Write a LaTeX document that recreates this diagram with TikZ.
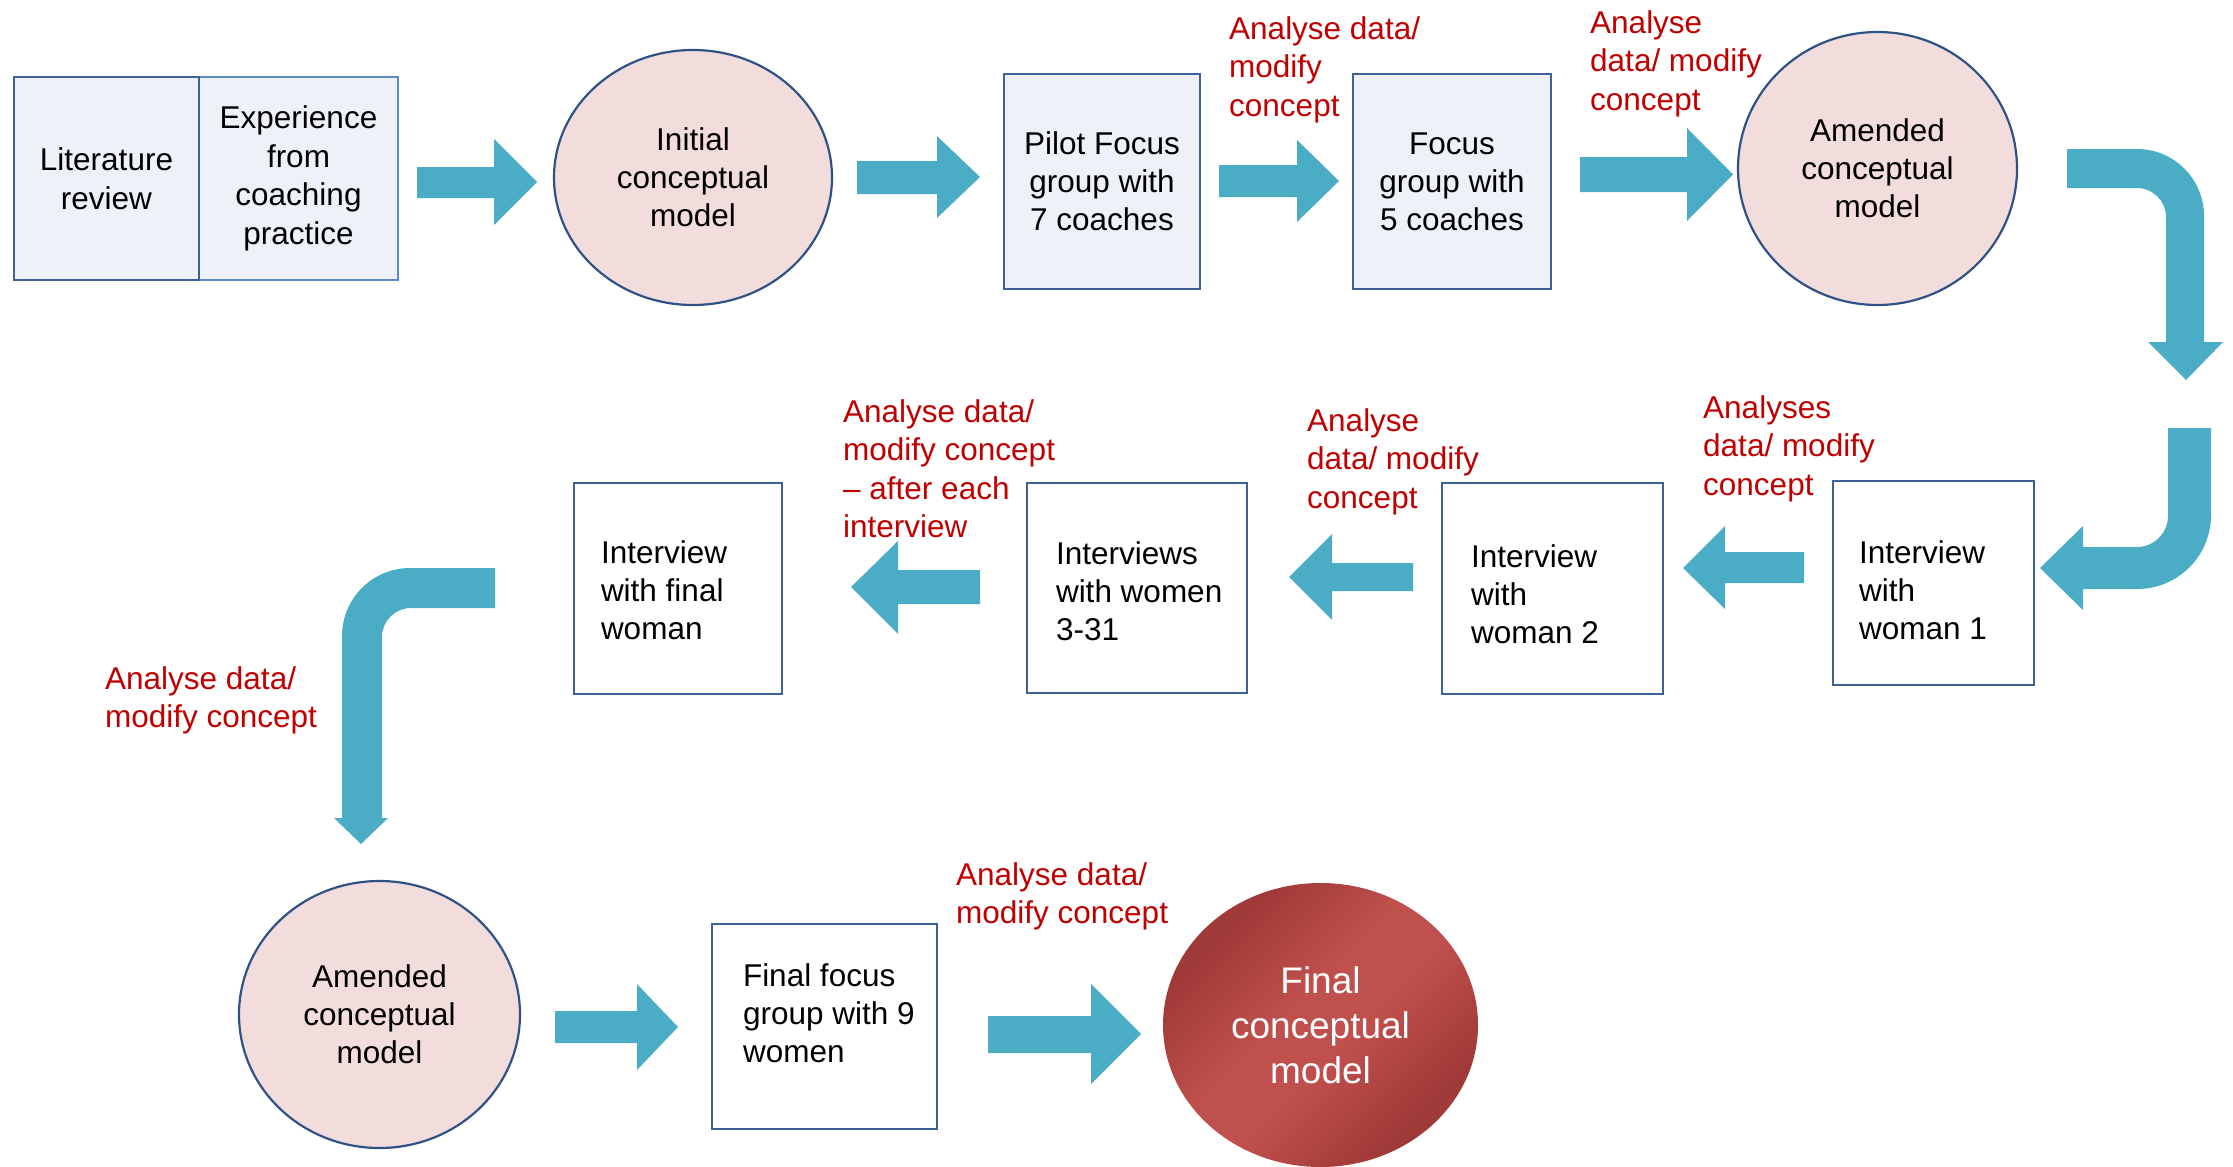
\documentclass[tikz,border=0pt]{standalone}
\usepackage{fontspec}
\setmainfont{Liberation Sans}
\usetikzlibrary{shapes.geometric}
\definecolor{arrowc}{HTML}{4BACC6}
\definecolor{boxline}{HTML}{3E6297}
\definecolor{boxline2}{HTML}{5B8BC9}
\definecolor{boxfill}{HTML}{EEF2F8}
\definecolor{circfill}{HTML}{F2DDDC}
\definecolor{circline}{HTML}{2F5286}
\definecolor{labred}{HTML}{C00000}
\definecolor{rdark}{HTML}{A03A38}
\definecolor{rlight}{HTML}{C0504D}
\pgfdeclarehorizontalshading{redband}{100bp}{color(0bp)=(rdark); color(28bp)=(rdark); color(45bp)=(rlight); color(55bp)=(rlight); color(72bp)=(rdark); color(100bp)=(rdark)}
\tikzset{
  basetext/.style={inner sep=0pt, outer sep=0pt, font=\fontsize{31.5}{38}\selectfont},
  topbox/.style={basetext, draw=boxline, line width=2.2pt, fill=boxfill, align=center},
  rowbox/.style={basetext, draw=boxline, line width=2.2pt, fill=white},
  circ/.style={basetext, ellipse, draw=circline, line width=2.2pt, fill=circfill, align=center},
  btxt/.style={basetext, align=left, anchor=north west},
  lab/.style={inner sep=0pt, font=\fontsize{31.5}{38.5}\selectfont, text=labred, align=left, anchor=north west},
  barrow/.style={fill=arrowc},
}
\begin{document}
\begin{tikzpicture}[x=1pt,y=-1pt]
\useasboundingbox (0,0) rectangle (2233,1167);

% top row
\node[topbox, draw=boxline2, minimum width=199pt, minimum height=203pt, font=\fontsize{31.5}{38.5}\selectfont] (exp) at (298.5,178.5) {Experience\\from\\coaching\\practice};
\node[topbox, minimum width=185pt, minimum height=203pt, font=\fontsize{31.5}{38.5}\selectfont] (lit) at (106.5,178.5) {Literature\\review};
\node[circ, minimum width=278pt, minimum height=255pt] (init) at (693,177.5) {Initial\\conceptual\\model};
\node[topbox, minimum width=196pt, minimum height=215pt] (pilot) at (1102,181.5) {Pilot Focus\\group with\\7 coaches};
\node[topbox, minimum width=198pt, minimum height=215pt] (focus) at (1452,181.5) {Focus\\group with\\5 coaches};
\node[circ, minimum width=279pt, minimum height=273pt] (amend1) at (1877.5,168.5) {Amended\\conceptual\\model};

\fill[barrow] (417,167) -- (494,167) -- (494,139) -- (537,182) -- (494,225) -- (494,198) -- (417,198) -- cycle;
\fill[barrow] (857,161) -- (937,161) -- (937,136) -- (980,177) -- (937,218) -- (937,194) -- (857,194) -- cycle;
\fill[barrow] (1219,165) -- (1297,165) -- (1297,140) -- (1339,181) -- (1297,222) -- (1297,197) -- (1219,197) -- cycle;
\fill[barrow] (1580,157) -- (1687,157) -- (1687,128) -- (1733,174.5) -- (1687,221) -- (1687,192) -- (1580,192) -- cycle;

\node[lab] (l1) at (1229,16) {Analyse data/\\modify\\concept};
\node[lab] (l2) at (1590,10) {Analyse\\data/ modify\\concept};

% bent arrows right
\fill[barrow] (2067,149) -- (2137,149) .. controls (2174,149) and (2204,179) .. (2204,216) -- (2204,342) -- (2223,342) -- (2186,380) -- (2148,342) -- (2166,342) -- (2166,217) .. controls (2166,201) and (2153,188) .. (2137,188) -- (2067,188) -- cycle;
\fill[barrow] (2168,428) -- (2211,428) -- (2211,515) .. controls (2211,556) and (2178,589) .. (2137,589) -- (2083,589) -- (2083,610) -- (2040,568) -- (2083,526) -- (2083,547) -- (2137,547) .. controls (2154,547) and (2168,533) .. (2168,516) -- cycle;

% second row
\node[rowbox, minimum width=201pt, minimum height=204pt] (w1) at (1933.5,583) {};
\node[btxt] (w1t) at (1859,541) {Interview\\with\\woman 1};
\node[rowbox, minimum width=221pt, minimum height=211pt] (w2) at (1552.5,588.5) {};
\node[btxt] (w2t) at (1471,545) {Interview\\with\\woman 2};
\node[rowbox, minimum width=220pt, minimum height=210pt] (w3) at (1137,588) {};
\node[btxt] (w3t) at (1056,542) {Interviews\\with women\\3-31};
\node[rowbox, minimum width=208pt, minimum height=211pt] (wf) at (678,588.5) {};
\node[btxt] (wft) at (601,541) {Interview\\with final\\woman};

\fill[barrow] (1804,552) -- (1725,552) -- (1725,526) -- (1683,568) -- (1725,609) -- (1725,583) -- (1804,583) -- cycle;
\fill[barrow] (1413,563) -- (1332,563) -- (1332,534) -- (1289,577) -- (1332,620) -- (1332,591) -- (1413,591) -- cycle;
\fill[barrow] (980,570) -- (898,570) -- (898,541) -- (851,587) -- (898,634) -- (898,604) -- (980,604) -- cycle;

\node[lab] (l3) at (1703,395) {Analyses\\data/ modify\\concept};
\node[lab] (l4) at (1307,408) {Analyse\\data/ modify\\concept};
\node[lab] (l5) at (843,399) {Analyse data/\\modify concept\\– after each\\interview};

% bent arrow left
\fill[barrow] (495,568) -- (410,568) .. controls (372.5,568) and (342,598.5) .. (342,636) -- (342,818) -- (334,818) -- (361,844) -- (388,818) -- (382,818) -- (382,637) .. controls (382,621) and (395,608) .. (411,608) -- (495,608) -- cycle;
\node[lab] (l6) at (105,666) {Analyse data/\\modify concept};

% bottom row
\node[circ, minimum width=281pt, minimum height=267pt] (amend2) at (379.5,1014.5) {Amended\\conceptual\\model};
\node[rowbox, minimum width=225pt, minimum height=205pt] (ff) at (824.5,1026.5) {};
\node[btxt] (fft) at (743,964) {Final focus\\group with 9\\women};
\node[basetext, ellipse, minimum width=315pt, minimum height=284pt, shading=redband, shading angle=-45, text=white, align=center, font=\fontsize{37}{45}\selectfont] (final) at (1320.5,1025) {Final\\conceptual\\model};

\fill[barrow] (555,1011) -- (637,1011) -- (637,984) -- (678,1027) -- (637,1070) -- (637,1043) -- (555,1043) -- cycle;
\fill[barrow] (988,1016) -- (1091,1016) -- (1091,984) -- (1141,1034) -- (1091,1084) -- (1091,1053) -- (988,1053) -- cycle;
\node[lab] (l7) at (956,862) {Analyse data/\\modify concept};
\end{tikzpicture}
\end{document}
